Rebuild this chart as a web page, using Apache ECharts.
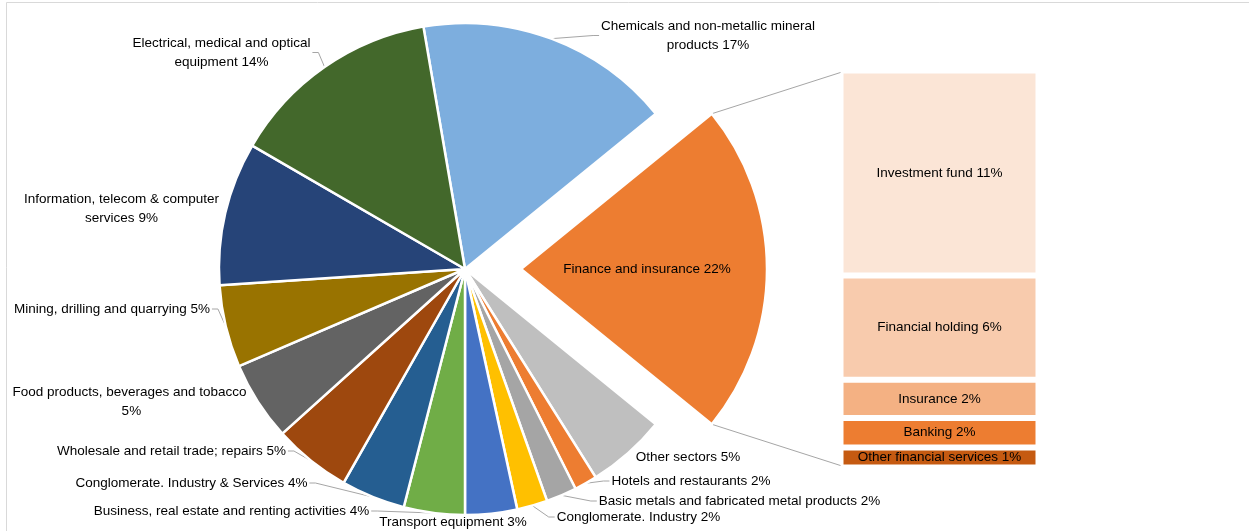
<!DOCTYPE html>
<html>
<head>
<meta charset="utf-8">
<script src="https://cdn.jsdelivr.net/npm/echarts@6/dist/echarts.min.js"></script>
<style>
  html, body { margin: 0; padding: 0; background: #ffffff; }
  #chart { width: 1249px; height: 531px; }
</style>
</head>
<body>
<div id="chart"></div>
<script>
// Sector shares (%) drawn clockwise starting with Chemicals
const sectorNames = [
  'Chemicals and non-metallic mineral\nproducts',
  'Finance and insurance',
  'Other sectors',
  'Hotels and restaurants',
  'Basic metals and fabricated metal products',
  'Conglomerate. Industry',
  'Transport equipment',
  'Business, real estate and renting activities',
  'Conglomerate. Industry & Services',
  'Wholesale and retail trade; repairs',
  'Food products, beverages and tobacco\n',
  'Mining, drilling and quarrying',
  'Information, telecom & computer\nservices',
  'Electrical, medical and optical\nequipment'
];
const sectorValues = [16.8, 21.7, 5.2, 1.5, 2.0, 2.0, 3.4, 4.0, 4.2, 5.1, 5.2, 5.4, 9.4, 13.9];
const sectorColors = [
  '#7DAEDE', '#ED7D31', '#BFBFBF', '#ED7D31', '#A5A5A5', '#FFC000', '#4472C4',
  '#70AD47', '#255E91', '#9E480E', '#636363', '#997300', '#264478', '#43682B'
];

// Breakdown of the finance and insurance slice, top to bottom
const financeNames = ['Investment fund', 'Financial holding', 'Insurance', 'Banking', 'Other financial services'];
const financeValues = [11.2, 5.7, 2.1, 1.6, 1.1];
const financeColors = ['#FBE5D6', '#F8CBAD', '#F4B183', '#ED7D31', '#C55A11'];

const FONT = 'Liberation Sans';
const FONT_SIZE = 13.5;
const pieCenter = [465, 269];
const pieRadius = 246;
const pieStart = 99.74;
const explode = 56;
const financeIndex = 1;
const barGrid = { left: 840.5, top: 70.5, width: 198, height: 397 };

// Where each slice's label block is centred (best-fit placement around the pie)
const labelSpots = [
  [708, 35.5], [669.5, 269], [688, 457], [691, 481], [739.5, 501], [638.5, 517], [453, 522],
  [231.5, 511], [191.5, 483], [171.5, 451], [129.5, 402], [112, 309], [121.5, 208.5], [221.5, 52.5]
];

const pct = v => Math.round(v) + '%';
const sum = sectorValues.reduce((a, b) => a + b, 0);
const financeTotal = financeValues.reduce((a, b) => a + b, 0);

// Mid angle (radians, counter-clockwise from east) of each slice
const midAngles = [];
(function () {
  let acc = 0;
  sectorValues.forEach(v => {
    const a0 = pieStart - 360 * acc / sum;
    acc += v;
    const a1 = pieStart - 360 * acc / sum;
    midAngles.push((a0 + a1) / 2 * Math.PI / 180);
  });
})();

function layoutLabel(params) {
  const i = params.dataIndex;
  const spot = labelSpots[i];
  const w = params.labelRect.width, h = params.labelRect.height;
  const out = { x: spot[0], y: spot[1], align: 'center', verticalAlign: 'middle' };
  if (i === financeIndex) { out.labelLinePoints = null; return out; }
  const m = midAngles[i];
  const ex = pieCenter[0] + pieRadius * Math.cos(m);
  const ey = pieCenter[1] - pieRadius * Math.sin(m);
  const left = spot[0] - w / 2, right = spot[0] + w / 2;
  const top = spot[1] - h / 2, bottom = spot[1] + h / 2;
  const dx = ex < left ? left - ex : (ex > right ? ex - right : 0);
  const dy = ey < top ? top - ey : (ey > bottom ? ey - bottom : 0);
  if (Math.hypot(dx, dy) < 14) {
    out.labelLinePoints = [[ex, ey], [ex, ey], [ex, ey]];
    return out;
  }
  const dir = spot[0] > ex ? 1 : -1;
  const ax = dir > 0 ? left - 2 : right + 2;
  out.labelLinePoints = [[ex, ey], [ax - dir * 6, spot[1]], [ax, spot[1]]];
  return out;
}

const pieData = sectorNames.map((n, i) => {
  const d = { name: n, value: sectorValues[i], itemStyle: { color: sectorColors[i] } };
  if (i === financeIndex) {
    d.selected = true;
    d.label = { position: 'inside' };
    d.labelLine = { show: false };
  }
  return d;
});

// Stack from the bottom segment upward
const barSeries = [];
for (let i = financeNames.length - 1; i >= 0; i--) {
  barSeries.push({
    type: 'bar',
    name: financeNames[i],
    stack: 'finance',
    barWidth: '100%',
    data: [financeValues[i]],
    itemStyle: { color: financeColors[i], borderColor: '#ffffff', borderWidth: 3 },
    label: {
      show: true,
      position: 'inside',
      formatter: p => p.seriesName + ' ' + pct(p.value),
      color: '#000000',
      fontFamily: FONT,
      fontSize: FONT_SIZE
    },
    emphasis: { disabled: true },
    silent: true
  });
}

const chart = echarts.init(document.getElementById('chart'), null, { renderer: 'canvas' });
chart.setOption({
  animation: false,
  backgroundColor: '#ffffff',
  grid: barGrid,
  xAxis: { type: 'category', data: ['Finance'], show: false },
  yAxis: { type: 'value', min: 0, max: financeTotal, show: false },
  series: [
    {
      type: 'pie',
      center: pieCenter,
      radius: pieRadius,
      startAngle: pieStart,
      clockwise: true,
      selectedMode: 'single',
      selectedOffset: explode,
      avoidLabelOverlap: false,
      data: pieData,
      itemStyle: { borderColor: '#ffffff', borderWidth: 2.5 },
      label: {
        show: true,
        formatter: p => p.name + ' ' + pct(p.value),
        color: '#000000',
        fontFamily: FONT,
        fontSize: FONT_SIZE,
        lineHeight: 19,
        align: 'center',
        overflow: 'none'
      },
      labelLine: { show: true, length: 10, length2: 6, lineStyle: { color: '#A6A6A6', width: 1 } },
      labelLayout: layoutLabel,
      emphasis: { disabled: true },
      silent: true
    }
  ].concat(barSeries)
});

// Connector lines from the exploded slice corners to the bar's left edge
let before = 0;
for (let i = 0; i < financeIndex; i++) before += sectorValues[i];
const a0 = (pieStart - 360 * before / sum) * Math.PI / 180;
const a1 = (pieStart - 360 * (before + sectorValues[financeIndex]) / sum) * Math.PI / 180;
const am = (a0 + a1) / 2;
const ox = explode * Math.cos(am), oy = -explode * Math.sin(am);
const corner = a => [pieCenter[0] + pieRadius * Math.cos(a) + ox, pieCenter[1] - pieRadius * Math.sin(a) + oy];
const topY = chart.convertToPixel({ yAxisIndex: 0 }, financeTotal);
const botY = chart.convertToPixel({ yAxisIndex: 0 }, 0);
const c0 = corner(a0), c1 = corner(a1);
const barEdge = barGrid.left + 1.5;

chart.setOption({
  graphic: [
    {
      type: 'rect', silent: true, z: -10,
      shape: { x: 6.5, y: 2.5, width: 1400, height: 700 },
      style: { fill: 'none', stroke: '#D9D9D9', lineWidth: 1 }
    },
    {
      type: 'line', silent: true,
      shape: { x1: c0[0], y1: c0[1], x2: barEdge, y2: topY + 1.5 },
      style: { stroke: '#A6A6A6', lineWidth: 1 }
    },
    {
      type: 'line', silent: true,
      shape: { x1: c1[0], y1: c1[1], x2: barEdge, y2: botY - 1.5 },
      style: { stroke: '#A6A6A6', lineWidth: 1 }
    }
  ]
});
</script>
</body>
</html>
